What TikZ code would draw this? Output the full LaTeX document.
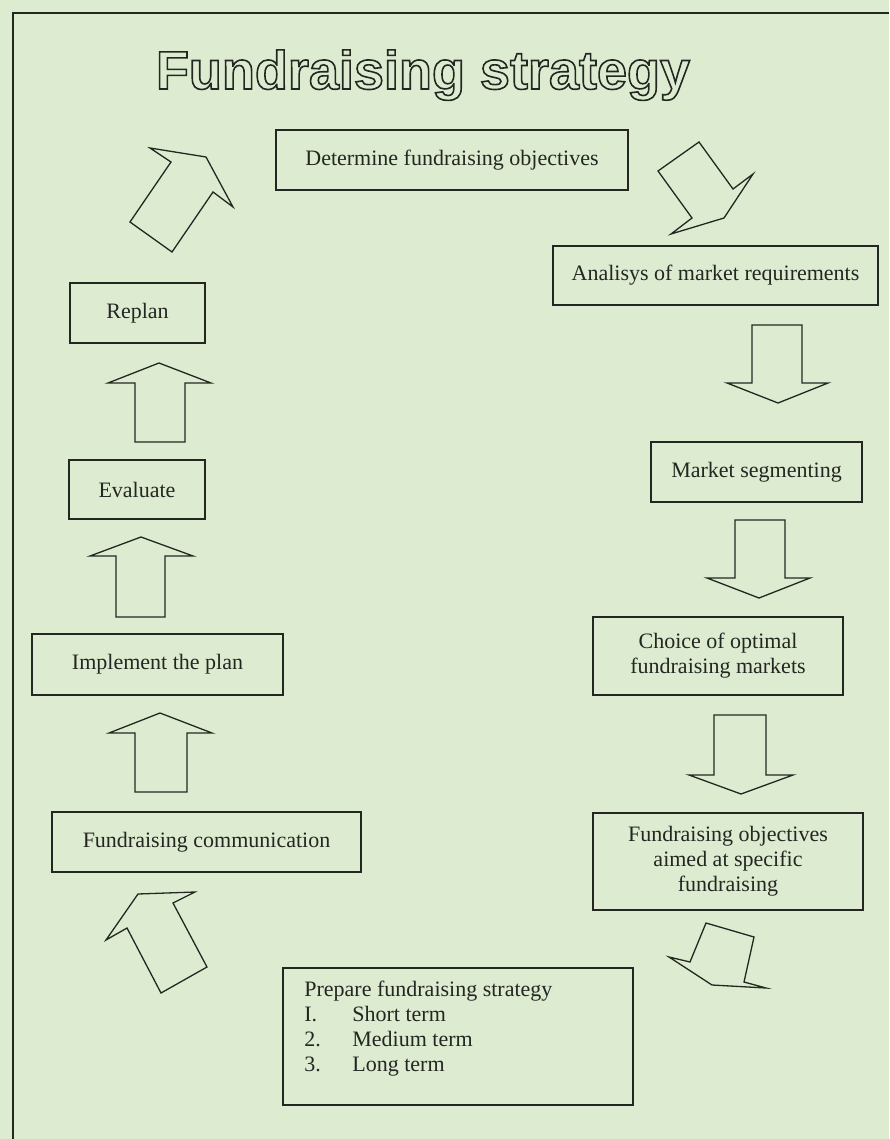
\documentclass[tikz,border=0pt]{standalone}
\usepackage{fontspec}
\setmainfont{Liberation Serif}
\newfontfamily\headfont{Liberation Sans}

\definecolor{bggreen}{RGB}{221,236,209}
\definecolor{ink}{RGB}{36,38,34}

% hollow letters: stroke only
\newcommand{\hollowtext}[1]{\special{pdf:literal direct 1 Tr 1.6 w}#1\special{pdf:literal direct 0 Tr}}

\tikzset{
	stepbox/.style={draw=ink, line width=1.6pt, fill=bggreen, inner sep=0pt, align=center,
		text=ink, font=\fontsize{22}{25}\selectfont},
	blockarrow/.style={draw=ink, line width=1.3pt, fill=bggreen, line join=miter},
}

\begin{document}
\begin{tikzpicture}[x=1pt, y=-1pt]
	\useasboundingbox (0,0) rectangle (889,1139);
	\fill[bggreen] (0,0) rectangle (889,1139);
	% frame
	\draw[ink, line width=1.8pt] (13,1139) -- (13,13) -- (889,13);
	% title
	\node[anchor=base, inner sep=0pt, text=ink, font=\headfont\bfseries\fontsize{54}{60}\selectfont]
		(title) at (423,89) {\hollowtext{Fundraising strategy}};
	% steps, right column
	\node[stepbox, minimum width=352pt, minimum height=60pt] (objectives) at (452,160) {Determine fundraising objectives};
	\node[stepbox, minimum width=325pt, minimum height=59pt] (market) at (715.5,275.5) {Analisys of market requirements};
	\node[stepbox, minimum width=211pt, minimum height=60pt] (segment) at (756.5,472) {Market segmenting};
	\node[stepbox, minimum width=250pt, minimum height=78pt] (choice) at (718,656) {Choice of optimal\\fundraising markets};
	\node[stepbox, minimum width=270pt, minimum height=97pt] (aimed) at (728,861.5) {Fundraising objectives\\aimed at specific\\fundraising};
	% steps, left column
	\node[stepbox, minimum width=135pt, minimum height=60pt] (replan) at (137.5,313) {Replan};
	\node[stepbox, minimum width=136pt, minimum height=59pt] (evaluate) at (137,489.5) {Evaluate};
	\node[stepbox, minimum width=251pt, minimum height=61pt] (implement) at (157.5,664.5) {Implement the plan};
	\node[stepbox, minimum width=309pt, minimum height=60pt] (communication) at (206.5,842) {Fundraising communication};
	% strategy box
	\node[stepbox, minimum width=350pt, minimum height=137pt] (prepare) at (458,1036.5) {};
	\node[anchor=north west, align=left, inner sep=0pt, text=ink, font=\fontsize{22}{25}\selectfont]
		(preparetext) at ([xshift=22pt,yshift=-14pt]prepare.north west)
		{Prepare fundraising strategy\\
		\makebox[48pt][l]{I.}Short term\\
		\makebox[48pt][l]{2.}Medium term\\
		\makebox[48pt][l]{3.}Long term};
	% straight block arrows
	\foreach \xl/\xr/\ya/\yb/\bl/\br/\tx/\ty in {
		135/185/442/383/108/211/159/363,
		116/165/617/556/90/193/141/537,
		135/187/792/733/109/212/160/713,
		752/802/325/383/727/828/778/403,
		735/785/520/578/707/810/759/598,
		714/766/715/775/689/793/741/794} {
		\draw[blockarrow] (\xl,\ya) -- (\xl,\yb) -- (\bl,\yb) -- (\tx,\ty) -- (\br,\yb) -- (\xr,\yb) -- (\xr,\ya) -- cycle;
	}
	% slanted block arrows
	\draw[blockarrow] (150,148) -- (171,162) -- (130,222) -- (172,252) -- (213,192) -- (233,207) -- (206,157) -- cycle;
	\draw[blockarrow] (699,142) -- (658,171) -- (692,218) -- (671,234) -- (724,218) -- (753,174) -- (733,189) -- cycle;
	\draw[blockarrow] (138,894) -- (106,940) -- (127,928) -- (161,993) -- (207,967) -- (173,903) -- (195,892) -- cycle;
	\draw[blockarrow] (706,923) -- (754,937) -- (744,982) -- (766,988) -- (712,985) -- (669,957) -- (690,962) -- cycle;
\end{tikzpicture}
\end{document}
